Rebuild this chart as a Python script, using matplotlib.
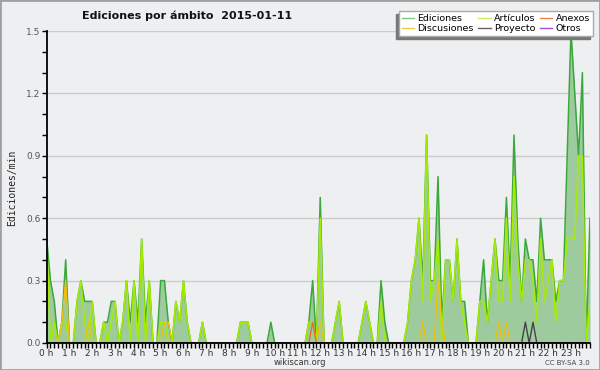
"""
Ediciones por ámbito (wikiscan style), ediciones/min in 10-minute steps.
"""

import matplotlib
matplotlib.use("Agg")
import matplotlib.pyplot as plt
import numpy as np
from matplotlib.patches import Rectangle
from matplotlib.ticker import FixedLocator, MultipleLocator

# one value per 10 minutes, 6 per hour, rows = hours 0..23
ediciones = [
    0.5, 0.3, 0.2, 0.0, 0.1, 0.4,
    0.0, 0.0, 0.2, 0.3, 0.2, 0.2,
    0.2, 0.0, 0.0, 0.1, 0.1, 0.2,
    0.2, 0.0, 0.1, 0.3, 0.1, 0.3,
    0.1, 0.5, 0.1, 0.3, 0.0, 0.0,
    0.3, 0.3, 0.1, 0.0, 0.2, 0.1,
    0.3, 0.1, 0.0, 0.0, 0.0, 0.1,
    0.0, 0.0, 0.0, 0.0, 0.0, 0.0,
    0.0, 0.0, 0.0, 0.1, 0.1, 0.1,
    0.0, 0.0, 0.0, 0.0, 0.0, 0.1,
    0.0, 0.0, 0.0, 0.0, 0.0, 0.0,
    0.0, 0.0, 0.0, 0.1, 0.3, 0.0,
    0.7, 0.0, 0.0, 0.0, 0.1, 0.2,
    0.0, 0.0, 0.0, 0.0, 0.0, 0.1,
    0.2, 0.1, 0.0, 0.0, 0.3, 0.1,
    0.0, 0.0, 0.0, 0.0, 0.0, 0.1,
    0.3, 0.4, 0.6, 0.3, 1.0, 0.3,
    0.3, 0.8, 0.1, 0.4, 0.4, 0.2,
    0.5, 0.2, 0.2, 0.0, 0.0, 0.0,
    0.2, 0.4, 0.1, 0.3, 0.5, 0.3,
    0.3, 0.7, 0.3, 1.0, 0.5, 0.2,
    0.5, 0.4, 0.4, 0.2, 0.6, 0.4,
    0.4, 0.4, 0.2, 0.3, 0.3, 0.9,
    1.5, 1.2, 0.9, 1.3, 0.0, 0.6,
]
articulos = [
    0.5, 0.0, 0.1, 0.0, 0.1, 0.1,
    0.0, 0.0, 0.2, 0.3, 0.1, 0.0,
    0.2, 0.0, 0.0, 0.1, 0.0, 0.1,
    0.2, 0.0, 0.1, 0.3, 0.0, 0.3,
    0.0, 0.5, 0.0, 0.3, 0.0, 0.0,
    0.1, 0.1, 0.0, 0.0, 0.2, 0.1,
    0.3, 0.1, 0.0, 0.0, 0.0, 0.1,
    0.0, 0.0, 0.0, 0.0, 0.0, 0.0,
    0.0, 0.0, 0.0, 0.1, 0.1, 0.1,
    0.0, 0.0, 0.0, 0.0, 0.0, 0.0,
    0.0, 0.0, 0.0, 0.0, 0.0, 0.0,
    0.0, 0.0, 0.0, 0.1, 0.1, 0.0,
    0.6, 0.0, 0.0, 0.0, 0.1, 0.2,
    0.0, 0.0, 0.0, 0.0, 0.0, 0.1,
    0.2, 0.1, 0.0, 0.0, 0.2, 0.0,
    0.0, 0.0, 0.0, 0.0, 0.0, 0.1,
    0.3, 0.4, 0.6, 0.2, 1.0, 0.2,
    0.3, 0.5, 0.0, 0.4, 0.4, 0.2,
    0.5, 0.2, 0.1, 0.0, 0.0, 0.0,
    0.2, 0.2, 0.1, 0.3, 0.5, 0.2,
    0.2, 0.6, 0.2, 0.8, 0.4, 0.2,
    0.4, 0.4, 0.3, 0.1, 0.5, 0.2,
    0.3, 0.4, 0.1, 0.3, 0.3, 0.5,
    0.5, 0.5, 0.9, 0.9, 0.0, 0.2,
]
# sparse series: {slot index: value}, every other slot is 0
discusiones_pts = {4: 0.1, 5: 0.3, 11: 0.1, 31: 0.1, 32: 0.1, 72: 0.1,
                   99: 0.1, 103: 0.3, 104: 0.1, 119: 0.1, 121: 0.1}
anexos_pts = {70: 0.1}
proyecto_pts = {126: 0.1, 128: 0.1}
otros_pts = {}

hour_labels = [f"{h} h" for h in range(24)]

N_SLOTS = 144


def _sparse(points):
    arr = np.zeros(N_SLOTS)
    for k, v in points.items():
        arr[k] = v
    return arr


x = np.arange(N_SLOTS) / 6.0
bg = "#eeeff1"

fig = plt.figure(figsize=(6.0, 3.7), dpi=100, facecolor=bg)
ax = fig.add_axes([0.0778, 0.073, 0.9055, 0.843])
ax.set_facecolor(bg)

tot = np.array(ediciones)
ax.fill_between(x, 0, tot, color="#9ecb9e", lw=0, zorder=1)
ax.plot(x, tot, color="#3aa83a", lw=1.1, zorder=2)
ax.plot(x, articulos, color="#a6ec00", lw=1.1, zorder=3)
ax.plot(x, _sparse(discusiones_pts), color="#f0c010", lw=1.0, zorder=4)
ax.plot(x, _sparse(anexos_pts), color="#ee6a2a", lw=1.0, zorder=4)
ax.plot(x, _sparse(proyecto_pts), color="#444444", lw=1.0, zorder=4)
ax.plot(x, _sparse(otros_pts), color="#9944dd", lw=1.0, zorder=4)

ax.set_xlim(0, x[-1])
ax.set_ylim(0, 1.5)

for y in (0.3, 0.6, 0.9, 1.2, 1.5):
    ax.axhline(y, color="#cccccc", lw=1.0, zorder=0)

for side in ("top", "right"):
    ax.spines[side].set_visible(False)
for side in ("left", "bottom"):
    ax.spines[side].set_color("black")
    ax.spines[side].set_linewidth(1.3)
    ax.spines[side].set_zorder(6)

ax.xaxis.set_major_locator(FixedLocator(range(24)))
ax.xaxis.set_minor_locator(MultipleLocator(1 / 6))
ax.set_xticklabels(hour_labels)
ax.yaxis.set_major_locator(MultipleLocator(0.3))
ax.yaxis.set_minor_locator(MultipleLocator(0.1))
ax.yaxis.set_major_formatter(plt.FuncFormatter(lambda v, p: f"{v:.1f}"))
ax.tick_params(axis="both", which="both", direction="out", length=3.5,
               width=1, color="black")
ax.tick_params(axis="x", labelsize=6.5, labelcolor="#333333", pad=0.5)
ax.tick_params(axis="y", labelsize=6.5, labelcolor="#555555", pad=1)

handles = [
    plt.Line2D([], [], color="#80c880", lw=1),
    plt.Line2D([], [], color="#f0cc40", lw=1),
    plt.Line2D([], [], color="#c8ee60", lw=1),
    plt.Line2D([], [], color="#666666", lw=1),
    plt.Line2D([], [], color="#ee8050", lw=1),
    plt.Line2D([], [], color="#9955dd", lw=1),
]
labels = ["Ediciones", "Discusiones", "Artículos", "Proyecto", "Anexos", "Otros"]
leg = ax.legend(handles, labels, ncol=3, loc="upper right",
                bbox_to_anchor=(1.0055, 1.064), fontsize=6.8, frameon=True,
                fancybox=False, handlelength=1.3, handletextpad=0.35,
                columnspacing=0.5, labelspacing=0.12, borderpad=0.3,
                borderaxespad=0,
                shadow={"ox": -2, "oy": -2, "color": "#777777", "alpha": 1})
leg.get_frame().set_edgecolor("#aaaaaa")
leg.get_frame().set_linewidth(1.0)
leg.get_frame().set_facecolor("white")
leg.set_zorder(10)

fig.text(0.312, 0.958, "Ediciones por ámbito  2015-01-11", ha="center",
         va="center", fontsize=8, fontweight="bold", color="#111111")
fig.text(0.021, 0.492, "Ediciones/min", rotation=90, ha="center",
         va="center", fontsize=7, family="DejaVu Sans Mono", color="#222222")
fig.text(0.5, 0.019, "wikiscan.org", ha="center", va="center",
         fontsize=6, color="#333333")
fig.text(0.983, 0.02, "CC BY-SA 3.0", ha="right", va="center",
         fontsize=5, color="#444444")

fig.patches.append(Rectangle((0, 0), 1, 1, transform=fig.transFigure,
                             fill=False, edgecolor="#a0a0a0", lw=2))

fig.savefig("out.png", dpi=100, facecolor=bg)
